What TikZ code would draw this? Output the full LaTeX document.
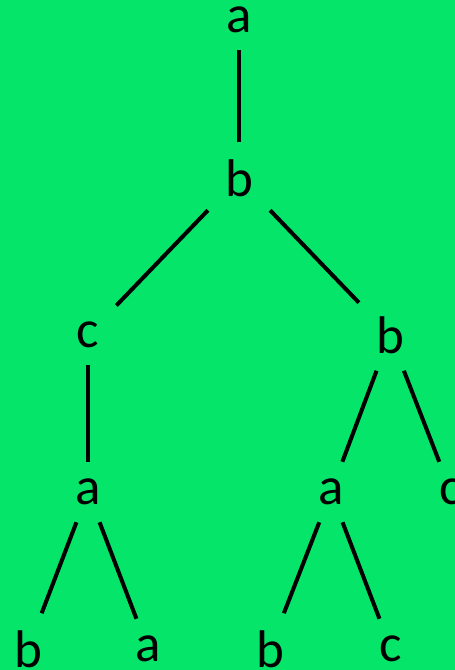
\documentclass[tikz,border=0pt]{standalone}
\usepackage{fontspec}
\setmainfont{Carlito}
\definecolor{bggreen}{RGB}{5,229,106}

\begin{document}
\begin{tikzpicture}[x=1pt, y=-1pt,
    every node/.style={inner sep=17pt, font=\fontsize{53}{60}\selectfont},
    edge/.style={line width=4pt}]
    \useasboundingbox (0, 0) rectangle (455, 670);
    \fill[bggreen] (0, 0) rectangle (455, 670);
    \node (r) at (239, 20) {a};
    \node (b1) at (239, 178) {b};
    \node (c1) at (88, 335) {c};
    \node (b2) at (390, 335) {b};
    \node (a1) at (88, 492) {a};
    \node (a2) at (331, 492) {a};
    \node (c2) at (451, 492) {c};
    \node (b3) at (28, 649) {b};
    \node (a3) at (148, 649) {a};
    \node (b4) at (270, 649) {b};
    \node (c3) at (391, 649) {c};
    \draw[edge] (r) -- (b1);
    \draw[edge] (b1) -- (c1);
    \draw[edge] (b1) -- (b2);
    \draw[edge] (c1) -- (a1);
    \draw[edge] (b2) -- (a2);
    \draw[edge] (b2) -- (c2);
    \draw[edge] (a1) -- (b3);
    \draw[edge] (a1) -- (a3);
    \draw[edge] (a2) -- (b4);
    \draw[edge] (a2) -- (c3);
  \end{tikzpicture}
\end{document}
